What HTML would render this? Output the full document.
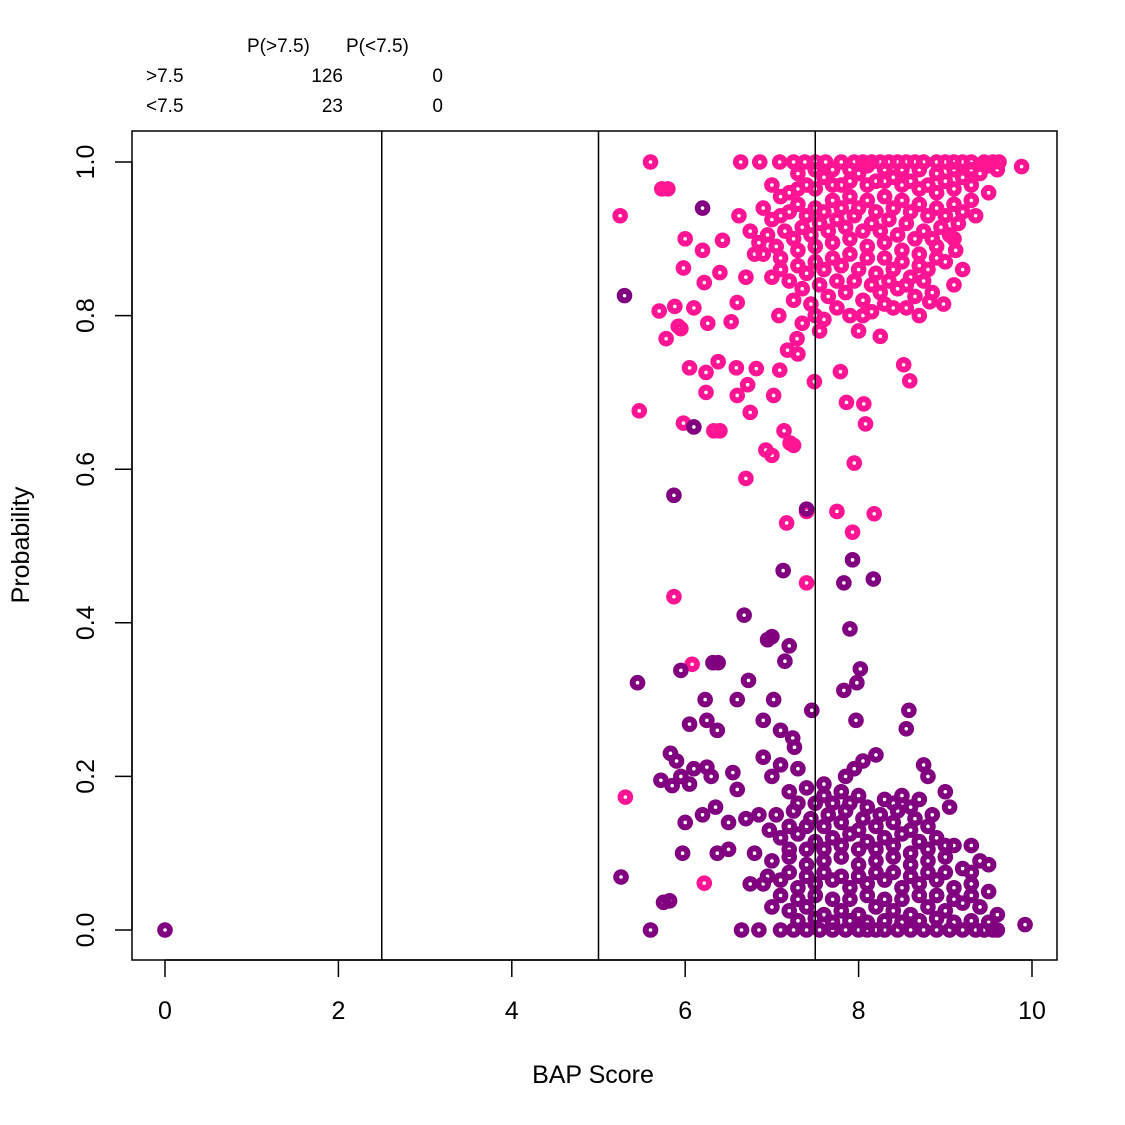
<!DOCTYPE html>
<html><head><meta charset="utf-8"><style>
body{margin:0;background:#fff}
svg{display:block;font-family:"Liberation Sans",sans-serif}
</style></head><body>
<svg id="chart" width="1125" height="1125" viewBox="0 0 1125 1125">
<rect width="1125" height="1125" fill="#fff"/>
<g font-size="19" fill="#000">
<text x="247" y="52">P(&gt;7.5)</text>
<text x="346" y="52">P(&lt;7.5)</text>
<text x="146" y="82">&gt;7.5</text>
<text x="343" y="82" text-anchor="end">126</text>
<text x="443" y="82" text-anchor="end">0</text>
<text x="146" y="112">&lt;7.5</text>
<text x="343" y="112" text-anchor="end">23</text>
<text x="443" y="112" text-anchor="end">0</text>
</g>
<g id="points"></g>
<g id="vlines"></g>
<rect x="132" y="131" width="925" height="829" fill="none" stroke="#000" stroke-width="1.5"/>
<g id="axes"></g>
<text x="593" y="1083" text-anchor="middle" font-size="25">BAP Score</text>
<text transform="translate(29,545) rotate(-90)" text-anchor="middle" font-size="25">Probability</text>
</svg>
<script>
const xTicks=[0,2,4,6,8,10];
const yTicks=[0.0,0.2,0.4,0.6,0.8,1.0];
const yTickLabels=["0.0","0.2","0.4","0.6","0.8","1.0"];
const thresholds=[2.5,5,7.5];
const pinkPoints=[[5.25,0.93],[5.6,1.0],[5.73,0.965],[5.8,0.965],[6.0,0.9],[5.98,0.862],[6.2,0.885],[6.43,0.898],[6.4,0.856],[6.22,0.843],[5.7,0.806],[5.88,0.812],[6.1,0.81],[5.92,0.786],[5.78,0.77],[5.95,0.783],[6.26,0.79],[6.6,0.817],[6.53,0.792],[6.05,0.732],[6.38,0.74],[6.24,0.726],[6.24,0.7],[6.59,0.732],[6.72,0.71],[6.75,0.674],[6.6,0.696],[7.02,0.696],[5.47,0.676],[5.98,0.66],[6.33,0.65],[6.4,0.65],[6.93,0.625],[7.0,0.618],[7.14,0.65],[7.21,0.634],[7.25,0.631],[6.7,0.588],[7.17,0.53],[7.4,0.545],[7.4,0.452],[7.75,0.545],[7.93,0.518],[8.18,0.542],[7.79,0.727],[7.86,0.687],[8.06,0.685],[8.08,0.659],[7.95,0.608],[8.52,0.736],[8.59,0.715],[5.87,0.434],[6.08,0.346],[5.31,0.173],[6.22,0.061],[6.82,0.731],[7.09,0.729],[7.18,0.755],[7.49,0.714],[8.25,0.773],[8.82,0.818],[8.98,0.815],[9.12,0.885],[9.88,0.994],[6.86,1.0],[7.09,1.0],[6.64,1.0],[7.29,0.77],[7.08,0.8],[6.7,0.85],[6.8,0.88],[6.62,0.93],
[7.25,1],[7.38,1],[7.5,1],[7.62,1],[7.8,1],[7.95,1],[8.05,1],[8.15,1],[8.25,1],[8.35,1],[8.45,1],[8.55,1],[8.65,1],[8.75,1],[8.9,1],[9.0,1],[9.1,1],[9.2,1],[9.3,1],[9.45,1],[9.55,1],[9.62,1],
[7.0,0.97],[7.2,0.96],[7.4,0.97],[7.6,0.98],[7.8,0.97],[8.0,0.985],[8.2,0.975],[8.4,0.98],[8.6,0.975],[8.8,0.97],[9.0,0.975],[9.2,0.98],[9.4,0.985],[9.6,0.99],
[6.9,0.94],[7.1,0.93],[7.3,0.945],[7.5,0.94],[7.7,0.95],[7.9,0.955],[8.1,0.95],[8.3,0.955],[8.5,0.95],[8.7,0.945],[8.9,0.94],[9.1,0.945],[9.3,0.95],[9.5,0.96],
[6.75,0.91],[6.95,0.905],[7.15,0.91],[7.35,0.915],[7.55,0.92],[7.75,0.925],[7.95,0.93],[8.15,0.92],[8.35,0.925],[8.55,0.92],[8.75,0.91],[8.95,0.915],[9.15,0.92],[9.35,0.93],
[6.9,0.88],[7.1,0.875],[7.3,0.885],[7.5,0.89],[7.7,0.895],[7.9,0.9],[8.1,0.89],[8.3,0.895],[8.5,0.885],[8.7,0.88],[8.9,0.89],[9.1,0.9],
[7.0,0.85],[7.2,0.845],[7.4,0.855],[7.6,0.86],[7.8,0.865],[8.0,0.86],[8.2,0.855],[8.4,0.86],[8.6,0.85],[8.8,0.86],[9.0,0.87],[9.2,0.86],
[7.25,0.82],[7.45,0.815],[7.65,0.825],[7.85,0.83],[8.05,0.82],[8.25,0.83],[8.45,0.835],[8.65,0.825],[8.85,0.83],[7.35,0.79],[7.6,0.795],[7.9,0.8],[8.15,0.805],[8.4,0.81],[8.7,0.8],[7.3,0.75],[7.55,0.78],[8.0,0.78],[9.1,0.84],
[7.3,0.985],[7.5,0.99],[7.7,0.99],[7.9,0.99],[8.1,0.995],[8.3,0.99],[8.5,0.99],[8.7,0.99],[8.9,0.985],[9.1,0.99],[9.3,0.99],[9.5,0.995],
[7.1,0.955],[7.3,0.965],[7.5,0.965],[7.7,0.97],[7.9,0.975],[8.1,0.97],[8.3,0.975],[8.5,0.97],[8.7,0.965],[8.9,0.96],[9.1,0.965],[9.3,0.97],
[7.0,0.925],[7.2,0.935],[7.4,0.93],[7.6,0.935],[7.8,0.94],[8.0,0.94],[8.2,0.935],[8.4,0.94],[8.6,0.935],[8.8,0.93],[9.0,0.93],[9.2,0.935],
[6.85,0.895],[7.05,0.89],[7.25,0.9],[7.45,0.905],[7.65,0.91],[7.85,0.915],[8.05,0.91],[8.25,0.91],[8.45,0.905],[8.65,0.9],[8.85,0.9],[9.05,0.905],
[7.1,0.86],[7.3,0.865],[7.5,0.87],[7.7,0.875],[7.9,0.88],[8.1,0.875],[8.3,0.875],[8.5,0.87],[8.7,0.865],[8.9,0.875],
[7.35,0.835],[7.55,0.84],[7.75,0.845],[7.95,0.845],[8.15,0.84],[8.35,0.845],[8.55,0.84],[8.75,0.845],[7.5,0.8],[7.75,0.81],[8.05,0.8],[8.3,0.815],[8.55,0.81]];
const purplePoints=[[0,0],[6.2,0.94],[5.3,0.826],[6.1,0.655],[5.87,0.566],[7.4,0.548],[7.13,0.468],[7.83,0.452],[7.93,0.482],[8.17,0.457],[7.9,0.392],[6.68,0.41],[6.95,0.378],[7.0,0.382],[7.2,0.37],[7.15,0.35],[8.02,0.34],[6.32,0.348],[6.38,0.348],[5.95,0.338],[5.45,0.322],[6.73,0.325],[7.98,0.322],[7.83,0.312],[6.23,0.3],[6.6,0.3],[7.02,0.3],[7.46,0.286],[8.58,0.286],[6.05,0.268],[6.25,0.273],[6.37,0.26],[6.9,0.273],[7.1,0.26],[7.97,0.273],[8.55,0.262],[7.24,0.25],[7.26,0.238],[5.83,0.23],[5.9,0.22],[5.95,0.2],[6.1,0.21],[6.25,0.212],[6.3,0.2],[5.72,0.195],[5.85,0.188],[6.05,0.19],[6.55,0.205],[6.6,0.183],[6.9,0.225],[7.1,0.215],[6.0,0.14],[6.2,0.15],[6.35,0.16],[6.5,0.14],[6.7,0.145],[6.85,0.15],[6.97,0.13],[5.97,0.1],[6.37,0.1],[6.5,0.105],[6.8,0.1],[5.26,0.069],[5.82,0.038],[5.75,0.036],[6.75,0.06],[6.95,0.07],[5.6,0.0],[6.65,0.0],[6.85,0.0],[7.1,0.0],[7.25,0.0],[9.92,0.007],[9.6,0.0],[9.5,0.01],[8.2,0.228],[8.75,0.215],[8.8,0.2],[9.0,0.18],[9.3,0.11],[9.4,0.09],[8.05,0.22],[7.85,0.2],[7.95,0.21],
[7.4,0],[7.55,0],[7.7,0],[7.85,0],[8.0,0],[8.1,0],[8.2,0],[8.3,0],[8.45,0],[8.6,0],[8.75,0],[8.9,0],[9.05,0],[9.2,0],[9.35,0],[9.45,0],[9.55,0],
[7.0,0.03],[7.2,0.025],[7.4,0.03],[7.6,0.02],[7.8,0.025],[8.0,0.02],[8.2,0.03],[8.4,0.025],[8.6,0.02],[8.8,0.03],[9.0,0.025],[9.2,0.035],[9.4,0.03],[9.6,0.02],
[6.9,0.06],[7.1,0.065],[7.3,0.055],[7.5,0.06],[7.7,0.065],[7.9,0.055],[8.1,0.06],[8.3,0.065],[8.5,0.055],[8.7,0.06],[8.9,0.065],[9.1,0.055],[9.3,0.06],[9.5,0.05],
[7.0,0.09],[7.2,0.095],[7.4,0.085],[7.6,0.09],[7.8,0.095],[8.0,0.085],[8.2,0.09],[8.4,0.095],[8.6,0.085],[8.8,0.09],[9.0,0.095],[9.2,0.08],[9.5,0.085],
[7.1,0.12],[7.3,0.125],[7.5,0.115],[7.7,0.12],[7.9,0.125],[8.1,0.115],[8.3,0.12],[8.5,0.125],[8.7,0.115],[8.9,0.12],[9.1,0.11],
[7.05,0.15],[7.25,0.155],[7.45,0.145],[7.65,0.15],[7.85,0.155],[8.05,0.145],[8.25,0.15],[8.45,0.155],[8.65,0.145],[8.85,0.15],[9.05,0.16],
[7.2,0.18],[7.4,0.185],[7.6,0.175],[7.8,0.18],[8.0,0.175],[8.3,0.17],[8.5,0.175],[8.7,0.17],[7.0,0.2],[7.3,0.21],[7.6,0.19],
[7.3,0.012],[7.5,0.015],[7.7,0.01],[7.9,0.012],[8.1,0.01],[8.3,0.012],[8.5,0.01],[8.7,0.012],[8.9,0.015],[9.1,0.01],[9.3,0.012],
[7.1,0.045],[7.3,0.04],[7.5,0.045],[7.7,0.04],[7.9,0.04],[8.1,0.045],[8.3,0.04],[8.5,0.04],[8.7,0.045],[8.9,0.045],[9.1,0.04],[9.3,0.045],
[7.2,0.075],[7.4,0.07],[7.6,0.075],[7.8,0.07],[8.0,0.07],[8.2,0.075],[8.4,0.075],[8.6,0.07],[8.8,0.075],[9.0,0.075],[9.3,0.075],
[7.2,0.105],[7.4,0.105],[7.6,0.105],[7.8,0.11],[8.0,0.105],[8.2,0.105],[8.4,0.11],[8.6,0.1],[8.8,0.105],[9.0,0.11],
[7.2,0.135],[7.4,0.135],[7.6,0.135],[7.8,0.14],[8.0,0.13],[8.2,0.135],[8.4,0.14],[8.6,0.13],[8.8,0.135],
[7.3,0.165],[7.5,0.165],[7.7,0.165],[7.9,0.165],[8.1,0.16],[8.4,0.165],[8.6,0.16]];

const NS="http://www.w3.org/2000/svg";
function xS(v){return 165+v*86.7;}
function yS(v){return 930-v*768;}
function mk(tag,attrs,parent){const e=document.createElementNS(NS,tag);for(const k in attrs)e.setAttribute(k,attrs[k]);parent.appendChild(e);return e;}

const pg=document.getElementById('points');
function drawSeries(arr,color,name){
  arr.forEach(p=>{
    const c=mk('circle',{cx:xS(p[0]),cy:yS(p[1]),r:4.8,fill:'none',stroke:color,'stroke-width':6},pg);
    
    
  });
}
drawSeries(pinkPoints,'#FF1493','point-high-prob');
drawSeries(purplePoints,'#800080','point-low-prob');

const vg=document.getElementById('vlines');
thresholds.forEach(t=>{
  const l=mk('line',{x1:xS(t),x2:xS(t),y1:131,y2:960,stroke:'#000','stroke-width':1.5},vg);
  
  
});

const ag=document.getElementById('axes');
mk('line',{x1:xS(xTicks[0]),x2:xS(xTicks[xTicks.length-1]),y1:960,y2:960,stroke:'#000','stroke-width':1.5},ag);
xTicks.forEach(t=>{
  const l=mk('line',{x1:xS(t),x2:xS(t),y1:960,y2:977,stroke:'#000','stroke-width':1.5},ag);
  
  
  const tx=mk('text',{x:xS(t),y:1019,'text-anchor':'middle','font-size':25},ag);
  tx.textContent=t;
  
  
});
mk('line',{x1:132,x2:132,y1:yS(yTicks[0]),y2:yS(yTicks[yTicks.length-1]),stroke:'#000','stroke-width':1.5},ag);
yTicks.forEach((t,i)=>{
  const l=mk('line',{x1:115,x2:132,y1:yS(t),y2:yS(t),stroke:'#000','stroke-width':1.5},ag);
  
  
  const tx=mk('text',{transform:'translate(94,'+yS(t)+') rotate(-90)','text-anchor':'middle','font-size':25},ag);
  tx.textContent=yTickLabels[i];
  
  
});
</script>
</body></html>
